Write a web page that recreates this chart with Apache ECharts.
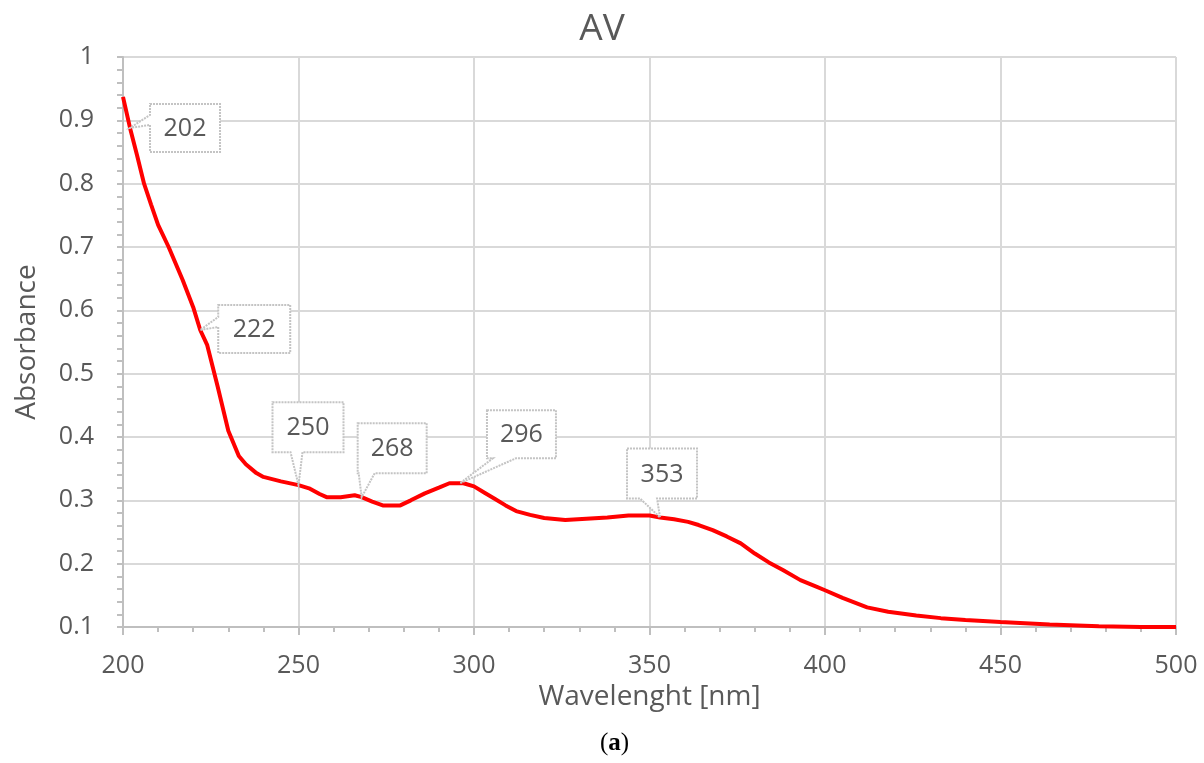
<!DOCTYPE html>
<html>
<head>
<meta charset="utf-8">
<title>AV</title>
<script src="https://cdn.jsdelivr.net/npm/echarts@6/dist/echarts.min.js"></script>
<style>
  html, body { margin: 0; padding: 0; background: #fff; }
  #chart { width: 1204px; height: 763px; }
</style>
</head>
<body>
<div id="chart"></div>
<script>
// spectrum
const wavelength = [200, 202, 204, 206, 208, 210, 213, 217, 220, 222, 224, 227, 230, 233, 235, 238, 240, 245,
  250, 253, 256, 258, 262, 266, 268, 271, 274, 279, 282, 286, 290, 293, 297, 300, 303, 306, 309, 312, 316,
  320, 326, 332, 338, 344, 350, 353, 357, 361, 364, 368, 372, 376, 380, 384, 388, 393, 397, 400, 405, 412,
  418, 426, 433, 440, 450, 464, 478, 490, 500]
const absorbance = [0.937, 0.888, 0.845, 0.80, 0.767, 0.735, 0.70, 0.648, 0.605, 0.569, 0.545, 0.479, 0.41,
  0.37, 0.357, 0.343, 0.337, 0.33, 0.324, 0.319, 0.31, 0.305, 0.305, 0.308, 0.305, 0.298, 0.292, 0.292, 0.30,
  0.311, 0.32, 0.327, 0.327, 0.322, 0.312, 0.302, 0.292, 0.283, 0.277, 0.272, 0.269, 0.271, 0.273, 0.276,
  0.276, 0.273, 0.27, 0.266, 0.261, 0.253, 0.243, 0.232, 0.216, 0.202, 0.19, 0.174, 0.165, 0.158, 0.146,
  0.131, 0.124, 0.118, 0.114, 0.111, 0.108, 0.104, 0.101, 0.100, 0.100]
// callout labels (nm)
const peakLabels = [202, 222, 250, 268, 296, 353]

// callout box placement relative to the pointed point (px)
const calloutLayout = [
  { dx: 20, dy: -24, w: 70, h: 48, side: 'left', a: 11, b: 21 },
  { dx: 18, dy: -25, w: 72, h: 48, side: 'left', a: 12, b: 22 },
  { dx: -26, dy: -83, w: 71, h: 50, side: 'bottom', a: 18, b: 30 },
  { dx: -4, dy: -74, w: 69, h: 50, side: 'bottom', a: 1, b: 17 },
  { dx: 27, dy: -73, w: 69, h: 48, side: 'bottom', a: 6, b: 29 },
  { dx: -33, dy: -69, w: 70, h: 50, side: 'bottom', a: 13, b: 30 }
]

const FONT = 'Open Sans'
const TEXT = '#595959'

function absAt (w) {
  for (let i = 1; i < wavelength.length; i++) {
    if (w <= wavelength[i]) {
      let t = (w - wavelength[i - 1]) / (wavelength[i] - wavelength[i - 1])
      return absorbance[i - 1] + t * (absorbance[i] - absorbance[i - 1])
    }
  }
  return absorbance[absorbance.length - 1]
}

function renderCallout (params, api) {
  let L = calloutLayout[params.dataIndex]
  let p = api.coord([api.value(0), api.value(1)])
  let x0 = p[0] + L.dx
  let y0 = p[1] + L.dy
  let x1 = x0 + L.w
  let y1 = y0 + L.h
  let pts
  if (L.side === 'left') {
    pts = [[x0, y0], [x1, y0], [x1, y1], [x0, y1], [x0, y0 + L.b], p, [x0, y0 + L.a]]
  } else {
    pts = [[x0, y0], [x1, y0], [x1, y1], [x0 + L.b, y1], p, [x0 + L.a, y1], [x0, y1]]
  }
  return {
    type: 'group',
    children: [{
      type: 'polygon',
      shape: { points: pts },
      style: { fill: '#fff', stroke: '#c4c4c4', lineWidth: 2, lineDash: [2, 1] }
    }, {
      type: 'text',
      style: {
        x: (x0 + x1) / 2,
        y: (y0 + y1) / 2 + 1,
        text: String(api.value(0)),
        align: 'center',
        verticalAlign: 'middle',
        fontFamily: FONT,
        fontSize: 25,
        fill: TEXT
      }
    }]
  }
}

let chart = echarts.init(document.getElementById('chart'))
chart.setOption({
  backgroundColor: '#fff',
  animation: false,
  title: {
    text: 'AV',
    left: 'center',
    top: 6,
    textStyle: { fontFamily: FONT, fontSize: 37, fontWeight: 'normal', color: TEXT }
  },
  graphic: [{
    type: 'text',
    left: 600,
    top: 731,
    style: {
      text: '{p|(}{b|a}{p|)}',
      rich: {
        p: { fontFamily: 'Liberation Serif', fontSize: 25, fill: '#000' },
        b: { fontFamily: 'Liberation Serif', fontSize: 25, fontWeight: 'bold', fill: '#000' }
      }
    }
  }],
  grid: { left: 123, right: 28, top: 57, bottom: 136, outerBoundsMode: 'none' },
  xAxis: {
    type: 'value',
    min: 200,
    max: 500,
    interval: 50,
    name: 'Wavelenght [nm]',
    nameLocation: 'middle',
    nameGap: 54,
    nameTextStyle: { fontFamily: FONT, fontSize: 28, color: TEXT },
    axisLine: { lineStyle: { color: '#bfbfbf', width: 2 } },
    axisTick: { show: true, length: 8, lineStyle: { color: '#bfbfbf', width: 2 } },
    minorTick: { show: true, splitNumber: 5, length: 5, lineStyle: { color: '#bfbfbf', width: 2 } },
    splitLine: { show: true, lineStyle: { color: '#d9d9d9', width: 2 } },
    axisLabel: { fontFamily: FONT, fontSize: 25, color: TEXT, margin: 26 }
  },
  yAxis: {
    type: 'value',
    min: 0.1,
    max: 1,
    interval: 0.1,
    name: 'Absorbance',
    nameLocation: 'middle',
    nameGap: 82,
    nameTextStyle: { fontFamily: FONT, fontSize: 28, color: TEXT },
    axisLine: { show: true, lineStyle: { color: '#bfbfbf', width: 2 } },
    axisTick: { show: true, length: 6, lineStyle: { color: '#bfbfbf', width: 2 } },
    minorTick: { show: true, splitNumber: 5, length: 6, lineStyle: { color: '#bfbfbf', width: 2 } },
    splitLine: { show: true, lineStyle: { color: '#d9d9d9', width: 2 } },
    axisLabel: {
      fontFamily: FONT,
      fontSize: 25,
      color: TEXT,
      margin: 29,
      formatter: function (v) { return String(+v.toFixed(1)) }
    }
  },
  series: [{
    name: 'AV',
    type: 'line',
    data: wavelength.map((w, i) => [w, absorbance[i]]),
    showSymbol: false,
    lineStyle: { color: '#ff0000', width: 4 },
    z: 3
  }, {
    name: 'callouts',
    type: 'custom',
    renderItem: renderCallout,
    data: peakLabels.map(w => [w, absAt(w)]),
    clip: false,
    z: 5
  }]
})
</script>
</body>
</html>
